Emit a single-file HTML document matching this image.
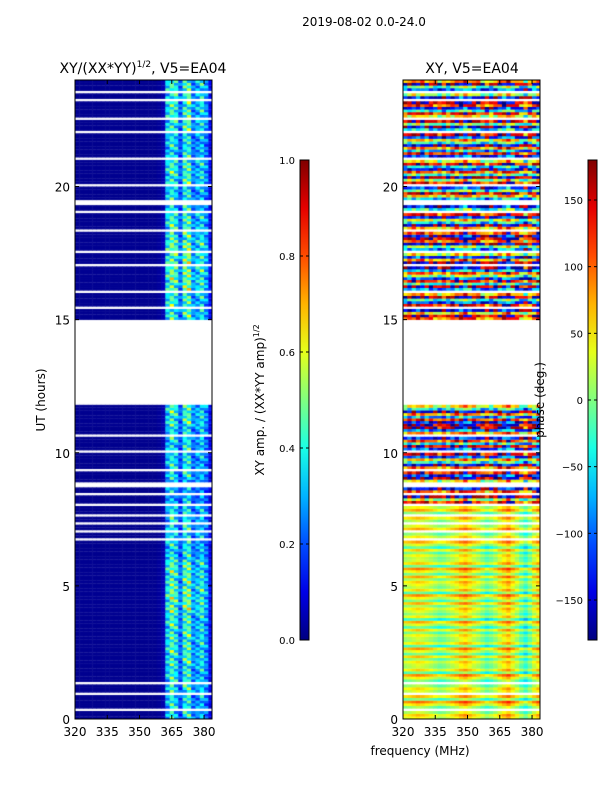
<!DOCTYPE html>
<html><head><meta charset="utf-8"><style>
body{margin:0;background:#fff;width:600px;height:800px;overflow:hidden;font-family:"DejaVu Sans","Liberation Sans",sans-serif}
svg{position:absolute;left:0;top:0}
canvas{position:absolute}
</style></head><body>
<canvas id="c1" width="137" height="639" style="left:75px;top:80px"></canvas>
<canvas id="c2" width="137" height="639" style="left:403px;top:80px"></canvas>
<svg id="s" width="600" height="800" font-family="DejaVu Sans, Liberation Sans, sans-serif"></svg>
<script>
// frequency bins (MHz start, 2 MHz each)
const freqBins=[320,322,324,326,328,330,332,334,336,338,340,342,344,346,348,350,352,354,356,358,360,362,364,366,368,370,372,374,376,378,380,382];
const ampCol=[0.02,0.02,0.02,0.02,0.02,0.02,0.02,0.02,0.02,0.02,0.02,0.02,0.02,0.02,0.02,0.02,0.02,0.02,0.02,0.03,0.06,0.45,0.6,0.5,0.3,0.55,0.6,0.35,0.4,0.5,0.35,0.15];
const ampHour=[0.7,0.75,0.8,0.8,0.9,0.85,0.7,0.7,0.6,0.7,0.7,0.8,0,0,0,0.8,0.9,0.9,0.8,0.7,0.8,0.7,0.8,0.8];
const ampSub=[1.0,0.7,1.2,0.8,1.1,0.6,0.9,1.3,0.75,1.0];
const phaseHour=[30,20,15,10,20,25,10,40,60,170,-170,160,0,0,0,90,-150,120,150,-100,60,170,-120,100];
const phaseSub=[0,60,-50,110,-90,30,150,-120,70,-30];
const phaseCol=[0,10,25,40,30,15,0,-20,-40,-30,-10,10,30,60,80,50,20,0,-30,-60,-40,-10,30,60,90,40,0,-50,-90,-40,20,60];
// gaps in hours (no data)
const gaps=[[0.3,0.38],[0.85,0.95],[1.3,1.36],[6.7,6.78],[7.0,7.06],[7.3,7.4],[7.6,7.66],[8.0,8.1],[8.4,8.48],[8.7,8.9],[9.3,9.36],[10.0,10.06],[10.6,10.65],[11.75,14.95],[15.4,15.46],[16.0,16.05],[17.0,17.06],[17.5,17.55],[18.3,18.35],[19.0,19.1],[19.3,19.45],[20.0,20.05],[21.0,21.1],[22.0,22.06],[22.5,22.55],[23.2,23.3],[23.5,23.58],[23.85,23.92]];
function jet(v){v=Math.max(0,Math.min(1,v));const f=x=>Math.round(255*Math.max(0,Math.min(1,1.5-Math.abs(4*v-x))));return `rgb(${f(3)},${f(2)},${f(1)})`;}
const W=137,H=639,fMin=320,fMax=383.7,tMax=24;
const xs=f=>(f-fMin)/(fMax-fMin)*W, ys=t=>H-t/tMax*H;
function inGap(t){return gaps.some(g=>t>=g[0]&&t<g[1]);}
const c1=document.getElementById('c1').getContext('2d'),c2=document.getElementById('c2').getContext('2d');
const dt=0.1;
for(let i=0;i<240;i++){const t=i*dt;if(inGap(t+0.02))continue;const h=Math.floor(t),sub=i%10;
 for(let j=0;j<freqBins.length;j++){const x0=xs(freqBins[j]),x1=xs(freqBins[j]+2),y0=ys(t+dt),y1=ys(t);
  let a=ampCol[j]*ampHour[h]*(j>20?ampSub[(sub+j)%10]:1);c1.fillStyle=jet(a);c1.fillRect(x0,y0,x1-x0+0.5,y1-y0+0.3);
  let p=phaseHour[h]+phaseSub[sub]*(h>=8?1:0.35)+phaseCol[j]*(h>=8?0.8:0.5)+(h>=8?phaseSub[(j+sub)%10]*0.3:0);p=((p+180)%360+360)%360-180;
  c2.fillStyle=jet((p+180)/360);c2.fillRect(x0,y0,x1-x0+0.5,y1-y0+0.3);}}
const s=document.getElementById('s');let out='';
function T(x,y,txt,name,anchor='middle',size=12,rot=0){out+=`<text x="${x}" y="${y}" font-size="${size}" text-anchor="${anchor}"${rot?` transform="rotate(${rot} ${x} ${y})"`:''}>${txt}</text>`;}
T(364,26,'2019-08-02 0.0-24.0','figure-title','middle',12);
out+=`<text x="143" y="73" font-size="14" text-anchor="middle">XY/(XX*YY)<tspan font-size="9" dy="-6">1/2</tspan><tspan dy="6">, V5=EA04</tspan></text>`;
T(472,73,'XY, V5=EA04','right-title','middle',14);
const xt=[320,335,350,365,380],yt=[0,5,10,15,20];
[[75,'left'],[403,'right']].forEach(([ox,n])=>{
 out+=`<rect x="${ox}" y="80" width="${W}" height="${H}" fill="none" stroke="#000"/>`;
 xt.forEach(v=>{const x=ox+xs(v);out+=`<line x1="${x}" x2="${x}" y1="719" y2="715" stroke="#000"/><line x1="${x}" x2="${x}" y1="80" y2="84" stroke="#000"/>`;T(x,736,v,n+'-x-tick');});
 yt.forEach(v=>{const y=80+ys(v);out+=`<line x1="${ox}" x2="${ox+4}" y1="${y}" y2="${y}" stroke="#000"/><line x1="${ox+W}" x2="${ox+W-4}" y1="${y}" y2="${y}" stroke="#000"/>`;T(ox-5,y+5,v,n+'-y-tick','end');});
});
T(45,400,'UT (hours)','y-axis-title','middle',12,-90);
T(420,755,'frequency (MHz)','x-axis-title','middle',12);
let g='<defs><linearGradient id="jg" x1="0" y1="1" x2="0" y2="0">';for(let k=0;k<=10;k++)g+=`<stop offset="${k/10}" stop-color="${jet(k/10)}"/>`;g+='</linearGradient></defs>';out=g+out;
const ampTicks=[0,0.2,0.4,0.6,0.8,1.0],phTicks=[-150,-100,-50,0,50,100,150];
out+=`<rect x="300" y="160" width="9" height="480" fill="url(#jg)" stroke="#000"/>`;
ampTicks.forEach(v=>{const y=640-v*480;out+=`<line x1="300" x2="303" y1="${y}" y2="${y}" stroke="#000"/><line x1="309" x2="306" y1="${y}" y2="${y}" stroke="#000"/>`;T(295,y+4,v.toFixed(1),'amp-colorbar-tick','end',10);});
out+=`<rect x="588" y="160" width="9" height="480" fill="url(#jg)" stroke="#000"/>`;
phTicks.forEach(v=>{const y=400-v*480/360;out+=`<line x1="588" x2="591" y1="${y}" y2="${y}" stroke="#000"/><line x1="597" x2="594" y1="${y}" y2="${y}" stroke="#000"/>`;T(583,y+4,v<0?'−'+(-v):v,'phase-colorbar-tick','end',10);});
out+=`<text x="264" y="400" font-size="12" text-anchor="middle" transform="rotate(-90 264 400)">XY amp. / (XX*YY amp)<tspan font-size="8" dy="-5">1/2</tspan></text>`;
T(544,400,'phase (deg.)','phase-colorbar-label','middle',12,-90);
s.innerHTML=out;
</script>
</body></html>
